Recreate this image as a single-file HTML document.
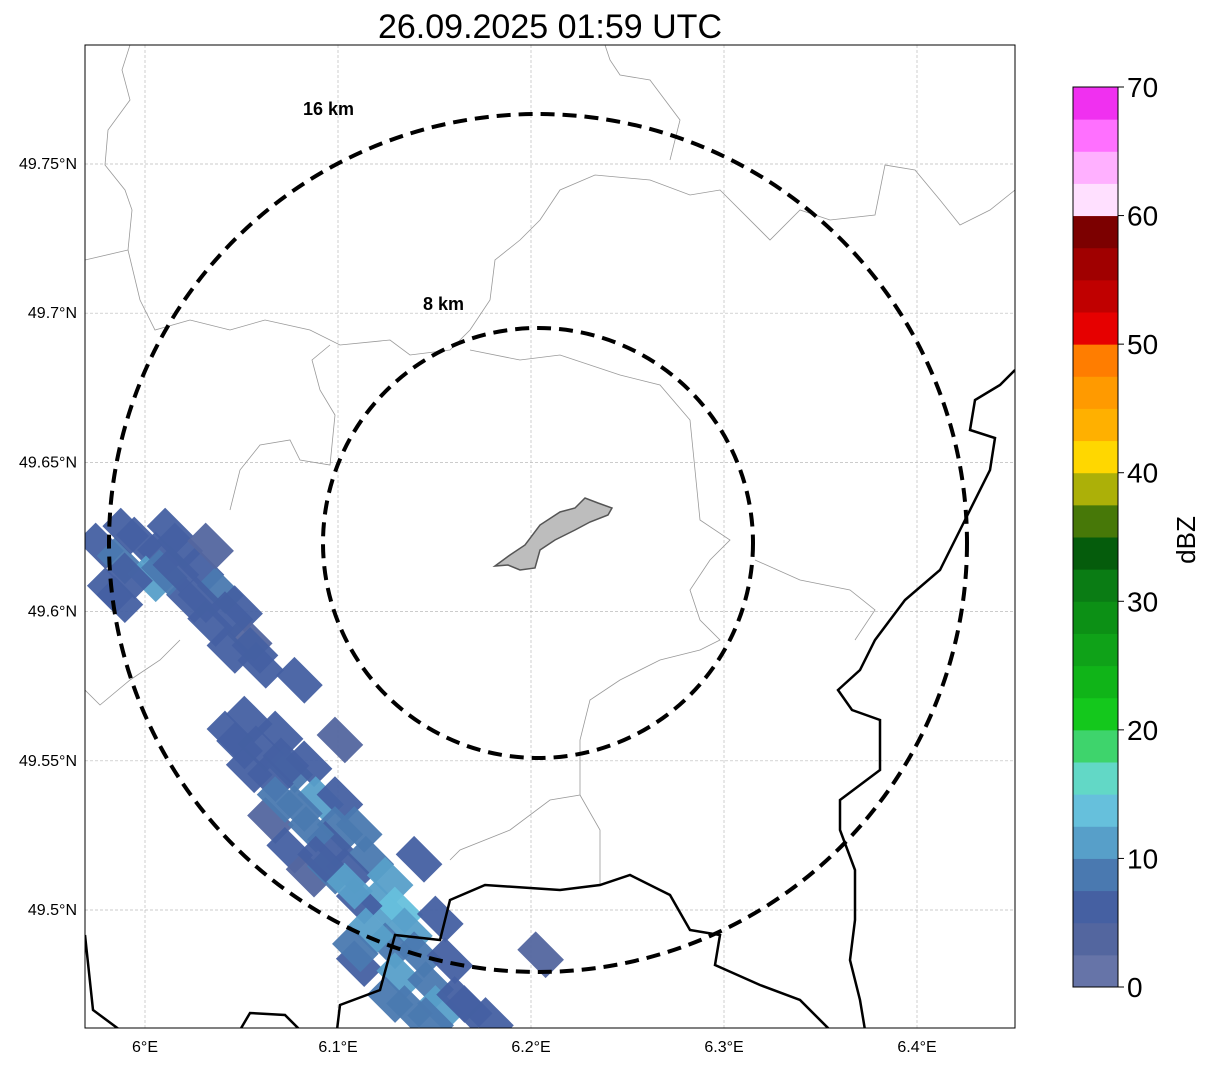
<!DOCTYPE html>
<html><head><meta charset="utf-8"><style>
body{margin:0;background:#fff;font-family:"Liberation Sans",sans-serif}
svg text{font-family:"Liberation Sans",sans-serif}
</style></head><body>
<svg width="1207" height="1064" id="chart">
<defs><clipPath id="clip"><rect x="85" y="45" width="930" height="983"/></clipPath></defs>
<text x="550" y="38" font-size="34" text-anchor="middle">26.09.2025 01:59 UTC</text>
<rect x="85" y="45" width="930" height="983" fill="#fff"/>
<g id="grid" clip-path="url(#clip)"></g>
<g clip-path="url(#clip)" fill="none" stroke="#999" stroke-width="0.8">
<path d="M130,45 L122,70 L130,100 L108,130 L105,165 L125,190 L132,210 L128,250 L85,260"/>
<path d="M128,250 L140,300 L155,330 L190,320 L230,330 L265,320 L310,330 L340,345 L390,340 L410,355 L450,350 L470,330 L490,300 L495,260 L520,240 L540,220 L560,190 L595,175 L650,180 L690,195 L720,190 L770,240 L800,210 L830,220 L875,215 L885,165 L915,170 L940,200 L960,225 L990,210 L1015,190"/>
<path d="M605,45 L610,60 L620,75 L650,80 L680,120 L670,160"/>
<path d="M330,345 L312,360 L320,390 L335,415 L330,465 L300,460 L290,440 L260,445 L240,470 L230,510"/>
<path d="M470,350 L520,360 L560,355 L620,375 L660,385 L690,420 L695,470 L700,520 L730,540 L710,560 L690,590 L700,620 L720,640 L700,650 L660,660 L620,680 L590,700 L580,740 L580,795 L550,800 L510,830 L460,850 L450,860"/>
<path d="M755,560 L800,580 L850,590 L875,610 L855,640"/>
<path d="M580,795 L600,830 L600,885"/>
<path d="M85,690 L100,705 L130,680 L160,660 L180,640"/>
</g>
<path d="M495,566 L510,555 L525,545 L540,525 L560,512 L575,508 L585,498 L598,503 L612,508 L608,515 L590,522 L575,530 L555,540 L540,550 L535,568 L520,570 L508,565 Z" fill="#bdbdbd" stroke="#555" stroke-width="1.5"/>
<g id="cells" clip-path="url(#clip)"></g>
<g clip-path="url(#clip)" fill="none" stroke="#000" stroke-width="2.5">
<path d="M1015,370 L1000,385 L975,400 L970,430 L995,438 L990,470 L965,520 L940,570 L905,600 L875,640 L860,670 L838,690 L852,710 L880,720 L880,770 L840,800 L840,830 L855,870 L855,920 L850,960 L860,1000 L865,1030"/>
<path d="M85,935 L93,1010 L120,1030"/>
<path d="M240,1030 L250,1013 L285,1015 L300,1030"/>
<path d="M337,1030 L340,1005 L380,990 L395,935 L440,940 L450,900 L485,885 L560,890 L600,885 L630,875 L670,895 L690,930 L720,935 L715,965 L760,985 L800,1000 L830,1030"/>
</g>
<g clip-path="url(#clip)" fill="none" stroke="#000" stroke-width="4" stroke-dasharray="14,8">
<ellipse cx="538" cy="543" rx="429" ry="429"/>
<ellipse cx="538" cy="543" rx="215" ry="215"/>
</g>
<text x="303" y="115" font-size="18" font-weight="bold">16 km</text>
<text x="423" y="310" font-size="18" font-weight="bold">8 km</text>
<rect x="85" y="45" width="930" height="983" fill="none" stroke="#000" stroke-width="1"/>
<g id="ticks"></g>
<g id="cbar"></g>
<text x="1195" y="540" font-size="26" text-anchor="middle" transform="rotate(-90 1195 540)">dBZ</text>
</svg>
<script>
const lonTicks=[6.0,6.1,6.2,6.3,6.4];
const latTicks=[49.5,49.55,49.6,49.65,49.7,49.75];
const lonLabels=["6°E","6.1°E","6.2°E","6.3°E","6.4°E"];
const latLabels=["49.5°N","49.55°N","49.6°N","49.65°N","49.7°N","49.75°N"];
const cellLon=[5.977,5.987,5.997,6.008,6.018,6.003,5.982,6.029,6.023,6.039,6.049,6.034,6.054,6.044,6.060,6.013,6.034,
6.044,6.054,6.060,6.070,6.080,6.075,6.065,6.085,6.091,6.080,6.101,6.101,6.096,6.111,6.117,6.106,6.127,6.122,6.132,6.111,6.137,6.127,6.142,6.111,6.132,6.148,6.153,6.137,6.168,6.179,6.158,6.065,6.075,6.085,6.142,6.101,6.153,6.205,5.990,6.010,
5.992,6.016,6.029,6.044,6.057,5.987,6.054,6.070,6.086,6.096,6.106,6.117,6.127,6.148,6.163,6.049,6.073,6.091,6.109];
const cellLat=[49.622,49.617,49.624,49.619,49.622,49.611,49.607,49.614,49.604,49.607,49.601,49.596,49.591,49.587,49.582,49.627,49.622,
49.559,49.564,49.554,49.559,49.577,49.547,49.544,49.549,49.537,49.534,49.537,49.527,49.522,49.527,49.517,49.513,49.510,49.502,49.500,49.503,49.493,49.488,49.485,49.482,49.478,49.475,49.467,49.467,49.467,49.463,49.483,49.530,49.520,49.512,49.517,49.557,49.497,49.485,49.627,49.613,
49.612,49.614,49.604,49.599,49.587,49.604,49.547,49.537,49.527,49.513,49.508,49.493,49.470,49.463,49.470,49.555,49.550,49.517,49.487];
const cellVal=[5,8,6,7,6,10,5,7,6,8,6,5,4,6,5,5,4,
6,5,7,6,5,9,6,7,10,8,6,9,7,8,9,7,11,12,13,7,10,9,8,6,10,9,11,8,7,6,6,4,5,4,5,4,5,4,6,8,
6,7,6,5,5,7,6,8,9,8,10,11,9,8,7,5,6,7,8];
const levels=[0,2.5,5,7.5,10,12.5,15,17.5,20,22.5,25,27.5,30,32.5,35,37.5,40,42.5,45,47.5,50,52.5,55,57.5,60,62.5,65,67.5];
const levelColors=["#6674a8","#53669f","#4560a2","#4a79b0","#579fc9","#66c0dc","#62d8c6","#3ed46c","#14c81c","#10b418","#0fa218","#0c9015","#0a7c14","#055c0c","#477808","#acb008","#ffd700","#ffb000","#ff9a00","#ff7d00","#e60000","#c00000","#a00000","#7c0000","#ffe0ff","#ffb0ff","#ff70ff","#f030f0"];
const cbTicks=[0,10,20,30,40,50,60,70];
const NS="http://www.w3.org/2000/svg";
const X=lon=>145+(lon-6)*1930;
const Y=lat=>910-(lat-49.5)*2984;
const CY=v=>987-v/70*900;
function mk(t,a,p){const e=document.createElementNS(NS,t);for(const k in a)e.setAttribute(k,a[k]);p.appendChild(e);return e;}
function color(v){let c=levelColors[0];levels.forEach((l,i)=>{if(v>=l)c=levelColors[i];});return c;}
const grid=document.getElementById('grid'),ticks=document.getElementById('ticks');
lonTicks.forEach((t,i)=>{
 const l=mk('line',{x1:X(t),x2:X(t),y1:45,y2:1028,stroke:'#bbb','stroke-width':0.7,'stroke-dasharray':'3,2'},grid);
 
 
 const tx=mk('text',{x:X(t),y:1052,'font-size':16,'text-anchor':'middle'},ticks);tx.textContent=lonLabels[i];
 
 
});
latTicks.forEach((t,i)=>{
 const l=mk('line',{x1:85,x2:1015,y1:Y(t),y2:Y(t),stroke:'#bbb','stroke-width':0.7,'stroke-dasharray':'3,2'},grid);
 
 
 const tx=mk('text',{x:77,y:Y(t)+5,'font-size':16,'text-anchor':'end'},ticks);tx.textContent=latLabels[i];
 
 
});
const cells=document.getElementById('cells');
cellLon.forEach((lo,i)=>{
 const x=X(lo),y=Y(cellLat[i]);
 const r=mk('rect',{x:x-20,y:y-13,width:40,height:26,fill:color(cellVal[i]),opacity:0.95,transform:`rotate(45 ${x} ${y})`},cells);
 
 
});
const cb=document.getElementById('cbar');
levels.forEach((l,i)=>{
 const y1=CY(l+2.5),y0=CY(l);
 const r=mk('rect',{x:1073,y:y1,width:45,height:y0-y1+0.5,fill:levelColors[i]},cb);
 
 
});
const fr=mk('rect',{x:1073,y:87,width:45,height:900,fill:'none',stroke:'#000','stroke-width':1},cb);


cbTicks.forEach(t=>{
 mk('line',{x1:1118,x2:1124,y1:CY(t),y2:CY(t),stroke:'#000'},cb);
 const tx=mk('text',{x:1127,y:CY(t)+10,'font-size':28},cb);tx.textContent=t;
 
 
});
</script>
</body></html>
